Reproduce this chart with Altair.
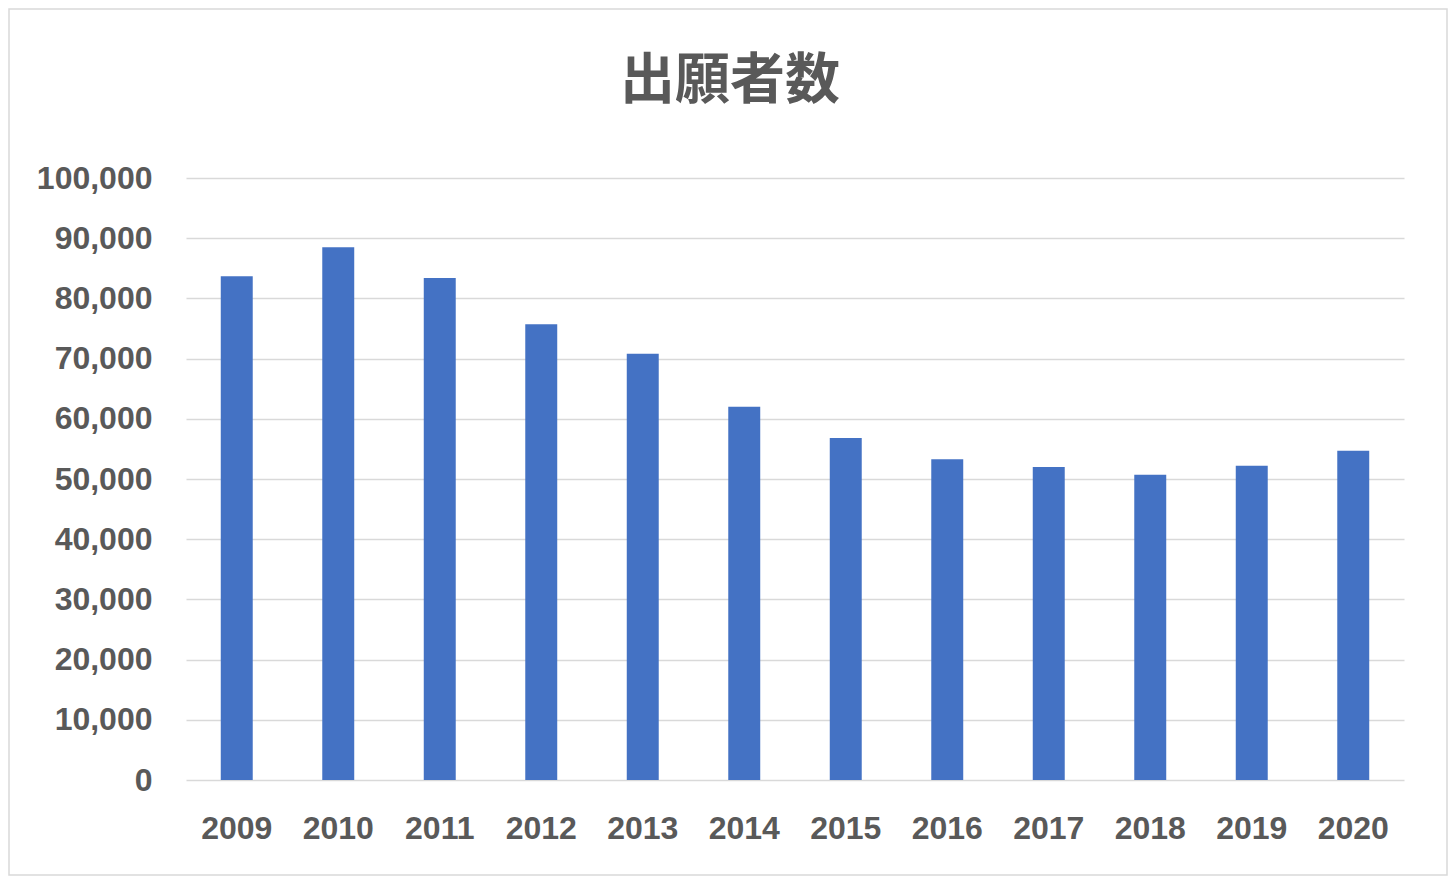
import altair as alt
import pandas as pd

years = ["2009", "2010", "2011", "2012", "2013", "2014", "2015", "2016", "2017", "2018", "2019", "2020"]
applicants = [83700, 88500, 83400, 75700, 70800, 62000, 56800, 53300, 52000, 50700, 52200, 54700]
chart_title = ["出願者数"]

df = pd.DataFrame({"year": years, "count": applicants})

GRAY = "#595959"
LABEL_FONT = "Liberation Sans"

bars = alt.Chart(df).mark_bar(color="#4472C4").encode(
    x=alt.X(
        "year:N",
        sort=years,
        title=None,
        scale=alt.Scale(paddingInner=0.685, paddingOuter=0.3425),
        axis=alt.Axis(
            labelAngle=0,
            labelFont=LABEL_FONT,
            labelFontSize=32,
            labelFontWeight="bold",
            labelColor=GRAY,
            labelPadding=33,
            ticks=False,
            domain=False,
            grid=False,
        ),
    ),
    y=alt.Y(
        "count:Q",
        title=None,
        scale=alt.Scale(domain=[0, 100000], nice=False),
        axis=alt.Axis(
            values=list(range(0, 100001, 10000)),
            format=",d",
            labelFont=LABEL_FONT,
            labelFontSize=32,
            labelFontWeight="bold",
            labelColor=GRAY,
            labelPadding=34,
            ticks=False,
            domain=False,
            grid=True,
            gridColor="#d9d9d9",
            gridWidth=1.5,
        ),
    ),
)

border = alt.Chart(pd.DataFrame({"k": [0]})).mark_rect(
    fill=None, stroke="#d9d9d9", strokeWidth=1.5
).encode(
    x=alt.value(-177),
    x2=alt.value(1261),
    y=alt.value(-169),
    y2=alt.value(697),
)

title = alt.Chart(pd.DataFrame({"t": chart_title})).mark_text(
    font="Noto Sans CJK JP",
    fontSize=55,
    fontWeight="bold",
    color=GRAY,
    align="center",
    baseline="middle",
).encode(
    text="t:N",
    x=alt.value(544),
    y=alt.value(-97),
)

chart = alt.layer(border, bars, title).properties(
    width=1218,
    height=602,
    padding={"left": 178, "top": 170, "right": 44, "bottom": 100},
    autosize=alt.AutoSizeParams(type="none"),
).configure(background="white").configure_view(stroke="transparent", strokeWidth=0)

chart.save("out.html", embed_options={"renderer": "svg", "actions": False})
